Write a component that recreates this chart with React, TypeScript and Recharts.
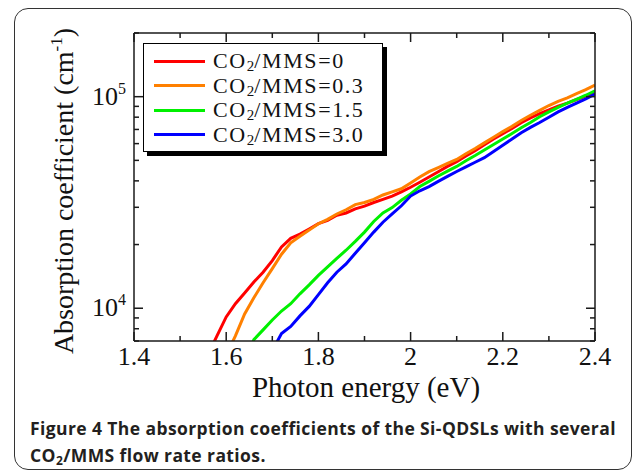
import { LineChart, Line, XAxis, YAxis } from 'recharts';

// photon energy (eV)
const energy = [
  1.56, 1.58, 1.6, 1.62, 1.64, 1.66, 1.68, 1.7, 1.72, 1.74, 1.76, 1.78, 1.8, 1.82, 1.84,
  1.86, 1.88, 1.9, 1.92, 1.94, 1.96, 1.98, 2.0, 2.02, 2.04, 2.06, 2.08, 2.1, 2.12, 2.14,
  2.16, 2.18, 2.2, 2.22, 2.24, 2.26, 2.28, 2.3, 2.32, 2.34, 2.36, 2.38, 2.4,
];

// absorption coefficient (cm-1), one list per CO2/MMS ratio
const ratio0 = [
  6000, 7400, 9100, 10500, 11800, 13300, 14800, 16800, 19500, 21400, 22400, 23700, 25100,
  26000, 27500, 28200, 29500, 30400, 31600, 32700, 33900, 35500, 37300, 39400, 41700, 44200,
  46800, 49300, 52500, 55600, 59300, 63100, 66800, 70800, 75300, 79400, 83200, 86500, 90200,
  93300, 97000, 100700, 105200,
];
const ratio03 = [
  null, null, 6000, 7400, 9400, 11200, 13200, 15400, 18000, 20400, 21900, 23400, 25100,
  26300, 27900, 29200, 30900, 31600, 32700, 34300, 35500, 36700, 39100, 41700, 44200, 46200,
  48400, 50500, 53700, 56900, 60500, 64300, 68400, 72400, 77100, 81700, 86100, 90800, 95100,
  98800, 103500, 107900, 113500,
];
const ratio15 = [
  null, null, null, null, 5600, 7100, 7900, 8800, 9700, 10500, 11700, 12900, 14300, 15700,
  17200, 18800, 20700, 22900, 25700, 28200, 29900, 32400, 34700, 37600, 39800, 42200, 44500,
  46800, 49800, 52700, 56000, 59400, 63100, 67000, 71300, 75500, 80400, 84700, 89100, 93300,
  97200, 101600, 106700,
];
const ratio30 = [
  null, null, null, null, null, null, null, 6300, 7600, 8200, 9200, 10200, 11600, 13200,
  14800, 16200, 18200, 20400, 22900, 25500, 27900, 30500, 33900, 35900, 37600, 39800, 42000,
  44300, 46600, 49000, 51500, 55000, 58900, 63100, 67600, 71600, 75500, 80000, 84700, 89100,
  93300, 97700, 102800,
];

const seriesKeys = ['r0', 'r03', 'r15', 'r30'];
const seriesLabels = ['0', '0.3', '1.5', '3.0'];
const seriesColors = ['#ff0000', '#ff8000', '#00f000', '#0000ff'];

const xTicks = [1.4, 1.5, 1.6, 1.7, 1.8, 1.9, 2.0, 2.1, 2.2, 2.3, 2.4];
const yTicks = [
  7000, 8000, 9000, 10000, 20000, 30000, 40000, 50000, 60000, 70000, 80000, 90000, 100000,
  200000,
];

const rows = energy.map((e, i) => ({
  e,
  r0: ratio0[i],
  r03: ratio03[i],
  r15: ratio15[i],
  r30: ratio30[i],
}));

const serif = '"Liberation Serif", "Times New Roman", serif';
const axisColor = '#1a1a1a';

const isMajorX = (v: number) => Math.round(v * 10) % 2 === 0;
const isMajorY = (v: number) => Math.abs(Math.log10(v) - Math.round(Math.log10(v))) < 1e-6;

const BottomTick = ({ x, y, payload }: any) => {
  const v = payload.value;
  const major = isMajorX(v);
  return (
    <g>
      <line x1={x} y1={y} x2={x} y2={y - (major ? 9 : 5)} stroke={axisColor} strokeWidth={1.5} />
      {major && (
        <text x={x} y={y + 24} textAnchor="middle" fontFamily={serif} fontSize={26} fill="#111">
          {String(parseFloat(v.toFixed(1)))}
        </text>
      )}
    </g>
  );
};

const TopTick = ({ x, y, payload }: any) => {
  const major = isMajorX(payload.value);
  return <line x1={x} y1={y} x2={x} y2={y + (major ? 9 : 5)} stroke={axisColor} strokeWidth={1.5} />;
};

const LeftTick = ({ x, y, payload }: any) => {
  const v = payload.value;
  const major = isMajorY(v);
  return (
    <g>
      <line x1={x} y1={y} x2={x + (major ? 9 : 5)} y2={y} stroke={axisColor} strokeWidth={1.5} />
      {major && (
        <text x={x - 8} y={y + 8} textAnchor="end" fontFamily={serif} fontSize={26} fill="#111">
          10
          <tspan dy={-11} fontSize={16}>
            {Math.round(Math.log10(v))}
          </tspan>
        </text>
      )}
    </g>
  );
};

const RightTick = ({ x, y, payload }: any) => {
  const major = isMajorY(payload.value);
  return <line x1={x} y1={y} x2={x - (major ? 9 : 5)} y2={y} stroke={axisColor} strokeWidth={1.5} />;
};

const YTitle = () => (
  <text
    x={73}
    y={191}
    transform="rotate(-90, 73, 191)"
    textAnchor="middle"
    fontFamily={serif}
    fontSize={28}
    fill="#111"
  >
    Absorption coefficient (cm
    <tspan dy={-11} fontSize={17}>
      -1
    </tspan>
    <tspan dy={11}>)</tspan>
  </text>
);

const XTitle = () => (
  <text x={366} y={397} textAnchor="middle" fontFamily={serif} fontSize={29} fill="#111">
    Photon energy (eV)
  </text>
);

const LegendBox = () => (
  <div
    style={{
      position: 'absolute',
      left: 143,
      top: 43,
      width: 240,
      height: 109,
      boxSizing: 'border-box',
      border: '1.5px solid #000',
      boxShadow: '4px 4px 0 #000',
      background: '#fff',
      fontFamily: serif,
      fontSize: 22,
      letterSpacing: 1.6,
      color: '#111',
    }}
  >
    {seriesLabels.map((label, i) => (
      <div
        key={label}
        style={{
          position: 'absolute',
          left: 0,
          top: 5 + i * 24.5,
          height: 24,
          display: 'flex',
          alignItems: 'center',
          whiteSpace: 'nowrap',
        }}
      >
        <div style={{ width: 51, height: 3, marginLeft: 10, background: seriesColors[i] }} />
        <span style={{ marginLeft: 8, lineHeight: '24px' }}>
          CO<sub style={{ fontSize: 15, verticalAlign: '-3px', lineHeight: 0, letterSpacing: 0 }}>2</sub>
          /MMS={label}
        </span>
      </div>
    ))}
  </div>
);

export default function App() {
  return (
    <div style={{ position: 'absolute', left: 0, top: 0, width: 633, height: 473, background: '#fff' }}>
      <div
        style={{
          position: 'absolute',
          left: 14,
          top: 8,
          width: 618,
          height: 462,
          boxSizing: 'border-box',
          border: '1.5px solid #333',
          borderRadius: 14,
        }}
      />
      <div style={{ position: 'absolute', left: 0, top: 0 }}>
        <LineChart width={633} height={412} data={rows} margin={{ top: 0, right: 0, bottom: 0, left: 0 }}>
          <XAxis
            xAxisId="bottom"
            dataKey="e"
            type="number"
            domain={[1.4, 2.4]}
            ticks={xTicks}
            interval={0}
            allowDataOverflow
            height={71}
            tickSize={0}
            tickMargin={0}
            tickLine={false}
            tick={<BottomTick />}
            axisLine={{ stroke: axisColor, strokeWidth: 1.5 }}
            label={<XTitle />}
          />
          <XAxis
            xAxisId="top"
            orientation="top"
            dataKey="e"
            type="number"
            domain={[1.4, 2.4]}
            ticks={xTicks}
            interval={0}
            allowDataOverflow
            height={33}
            tickSize={0}
            tickMargin={0}
            tickLine={false}
            tick={<TopTick />}
            axisLine={{ stroke: axisColor, strokeWidth: 1.5 }}
          />
          <YAxis
            yAxisId="left"
            scale="log"
            type="number"
            domain={[7000, 200000]}
            ticks={yTicks}
            interval={0}
            allowDataOverflow
            width={134}
            tickSize={0}
            tickMargin={0}
            tickLine={false}
            tick={<LeftTick />}
            axisLine={{ stroke: axisColor, strokeWidth: 1.5 }}
            label={<YTitle />}
          />
          <YAxis
            yAxisId="right"
            orientation="right"
            scale="log"
            type="number"
            domain={[7000, 200000]}
            ticks={yTicks}
            interval={0}
            allowDataOverflow
            width={38}
            tickSize={0}
            tickMargin={0}
            tickLine={false}
            tick={<RightTick />}
            axisLine={{ stroke: axisColor, strokeWidth: 1.5 }}
          />
          {seriesKeys.map((k, i) => (
            <Line
              key={k}
              xAxisId="bottom"
              yAxisId="left"
              dataKey={k}
              type="linear"
              stroke={seriesColors[i]}
              strokeWidth={3}
              dot={false}
              isAnimationActive={false}
            />
          ))}
        </LineChart>
      </div>
      <LegendBox />
      <div
        style={{
          position: 'absolute',
          left: 30,
          top: 415,
          fontFamily: '"Open Sans", "Noto Sans", sans-serif',
          fontWeight: 700,
          fontSize: 17.5,
          letterSpacing: 0.4,
          lineHeight: '27px',
          color: '#231f20',
          whiteSpace: 'nowrap',
        }}
      >
        <div>Figure 4 The absorption coefficients of the Si-QDSLs with several</div>
        <div>
          CO<sub style={{ fontSize: 12, verticalAlign: '-3px', lineHeight: 0 }}>2</sub>/MMS flow rate ratios.
        </div>
      </div>
    </div>
  );
}
